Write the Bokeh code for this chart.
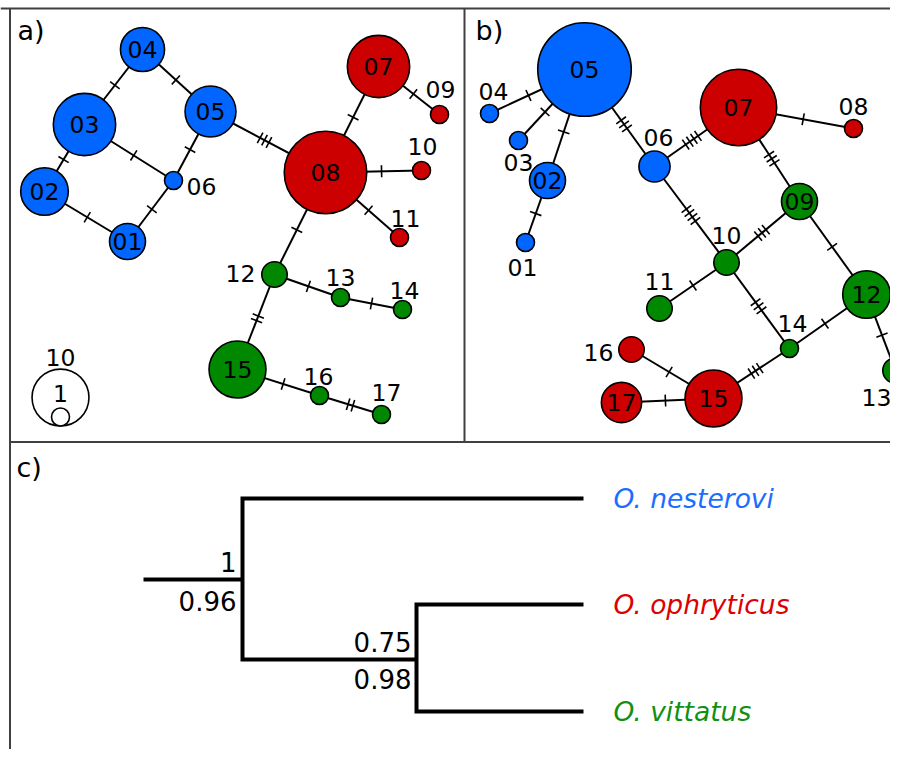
import math
from bokeh.plotting import figure
from bokeh.models import Range1d
from bokeh.embed import file_html
from bokeh.resources import INLINE
from bokeh.core.properties import value

FONT = "DejaVu Sans"
BLUE = "#0066ff"
RED = "#cc0000"
GREEN = "#008800"
GRP_COL = {"n": BLUE, "o": RED, "v": GREEN}

# ---------------- panel a: haplotype network ----------------
a_ids = ["01", "02", "03", "04", "05", "06", "07", "08", "09", "10", "11", "12", "13", "14", "15", "16", "17"]
a_x = [127, 44, 84, 142, 210, 173, 378, 325, 439, 421, 399, 274, 340, 402, 237, 319, 381]
a_y = [241, 191, 124, 49, 111, 180, 66, 172, 114, 170, 237, 274, 297, 309, 369, 395, 414]
a_n = [4, 7, 12, 6, 8, 1, 12, 21, 1, 1, 1, 2, 1, 1, 10, 1, 1]
a_grp = ["n"] * 6 + ["o"] * 5 + ["v"] * 6
a_outer = {"06": (201, 186), "09": (440, 89), "10": (422, 146), "11": (405, 218),
           "12": (240, 273), "13": (340, 277), "14": (404, 290), "16": (318, 376), "17": (386, 392)}
a_edges = [("04", "03", 1), ("04", "05", 1), ("03", "02", 1), ("03", "06", 1), ("05", "06", 1),
           ("02", "01", 1), ("01", "06", 1), ("05", "08", 3), ("08", "07", 1), ("07", "09", 1),
           ("08", "10", 1), ("08", "11", 1), ("08", "12", 1), ("12", "13", 1), ("13", "14", 1),
           ("12", "15", 2), ("15", "16", 1), ("16", "17", 2)]

# ---------------- panel b: haplotype network ----------------
b_ids = ["01", "02", "03", "04", "05", "06", "07", "08", "09", "10", "11", "12", "13", "14", "15", "16", "17"]
b_x = [525, 547, 518, 489, 584, 654, 738, 853, 799, 726, 659, 866, 895, 789, 713, 631, 621]
b_y = [242, 180, 140, 113, 69, 166, 107, 128, 201, 262, 308, 294, 370, 348, 398, 349, 402]
b_n = [1, 4, 1, 1, 27, 3, 18, 1, 4, 2, 2, 7, 2, 1, 10, 2, 5]
b_grp = ["n"] * 6 + ["o"] * 2 + ["v"] * 6 + ["o"] * 3
b_outer = {"01": (522, 267), "03": (518, 162), "04": (493, 91), "06": (658, 137), "08": (853, 106),
           "10": (726, 235), "11": (659, 281), "13": (876, 397), "14": (792, 323), "16": (598, 352)}
b_edges = [("05", "04", 1), ("05", "03", 1), ("05", "02", 1), ("02", "01", 1), ("05", "06", 3),
           ("06", "07", 4), ("07", "08", 1), ("07", "09", 3), ("06", "10", 4), ("09", "10", 3),
           ("09", "12", 1), ("10", "11", 1), ("10", "14", 3), ("14", "12", 1), ("12", "13", 1),
           ("14", "15", 3), ("15", "16", 1), ("15", "17", 1)]

# legend sizes
legend_n = [10, 1]

# ---------------- panel c: tree ----------------
taxa = ["O. nesterovi", "O. ophryticus", "O. vittatus"]
taxa_col = ["#1a6eff", "#dd0000", "#119011"]
tip_y = [498, 604, 711]
tip_x = 583
root_x = 143
root_y = 579
node1_x = 242
node2_x = 416
node2_y = 659
support_n1 = ["1", "0.96"]
support_n2 = ["0.75", "0.98"]

R1 = 9.0  # radius of a single-sample haplotype


def rad(n):
    return R1 * math.sqrt(n)


p = figure(width=890, height=749, output_backend="svg", toolbar_location=None,
           x_range=Range1d(0, 890), y_range=Range1d(749, 0), min_border=0,
           outline_line_color=None, background_fill_color="white")
p.axis.visible = False
p.xgrid.visible = False
p.ygrid.visible = False

# frame lines
p.segment(x0=[0, 9.5, 464, 9], y0=[8, 8, 8, 441.5], x1=[890, 9.5, 464, 890], y1=[8, 749, 441.5, 441.5],
          line_color="#404040", line_width=2)


def draw_network(ids, xs, ys, ns, grps, outer, edges):
    pos = {i: (x, y, rad(n)) for i, x, y, n in zip(ids, xs, ys, ns)}
    ex0, ey0, ex1, ey1 = [], [], [], []
    tx0, ty0, tx1, ty1 = [], [], [], []
    for a, b, k in edges:
        xa, ya, ra = pos[a]
        xb, yb, rb = pos[b]
        ex0.append(xa); ey0.append(ya); ex1.append(xb); ey1.append(yb)
        d = math.hypot(xb - xa, yb - ya)
        ux, uy = (xb - xa) / d, (yb - ya) / d
        t_mid = 0.5 * (d / 2) + 0.5 * ((ra + d - rb) / 2)
        px, py = -uy, ux
        for i in range(k):
            off = t_mid + (i - (k - 1) / 2) * 5.0
            cx, cy = xa + ux * off, ya + uy * off
            tx0.append(cx - px * 6); ty0.append(cy - py * 6)
            tx1.append(cx + px * 6); ty1.append(cy + py * 6)
    p.segment(x0=ex0, y0=ey0, x1=ex1, y1=ey1, line_color="black", line_width=2)
    p.segment(x0=tx0, y0=ty0, x1=tx1, y1=ty1, line_color="black", line_width=1.6)
    p.circle(x=xs, y=ys, radius=[rad(n) for n in ns], fill_color=[GRP_COL[g] for g in grps],
             line_color="black", line_width=1.6)
    in_x, in_y, in_t = [], [], []
    out_x, out_y, out_t = [], [], []
    for i, x, y in zip(ids, xs, ys):
        if i in outer:
            out_x.append(outer[i][0]); out_y.append(outer[i][1]); out_t.append(i)
        else:
            in_x.append(x); in_y.append(y); in_t.append(i)
    p.text(x=in_x + out_x, y=in_y + out_y, text=in_t + out_t, text_font=value(FONT),
           text_font_size="23.5px", text_align="center", text_baseline="middle", text_color="black")


draw_network(a_ids, a_x, a_y, a_n, a_grp, a_outer, a_edges)
draw_network(b_ids, b_x, b_y, b_n, b_grp, b_outer, b_edges)

# size legend (panel a)
lg_cx, lg_bottom = 60, 425.5
p.circle(x=[lg_cx] * 2, y=[lg_bottom - rad(n) for n in legend_n], radius=[rad(n) for n in legend_n],
         fill_color="white", line_color="black", line_width=1.6)
p.text(x=[lg_cx, lg_cx], y=[357, 393], text=[str(n) for n in legend_n], text_font=value(FONT),
       text_font_size="23.5px", text_align="center", text_baseline="middle")

# panel labels
p.text(x=[17, 475, 16], y=[30, 30, 467], text=["a)", "b)", "c)"], text_font=value(FONT),
       text_font_size="27px", text_align="left", text_baseline="middle")

# tree
xs_paths = [[root_x, node1_x],
            [tip_x, node1_x, node1_x, node2_x],
            [tip_x, node2_x, node2_x, tip_x]]
ys_paths = [[root_y, root_y],
            [tip_y[0], tip_y[0], node2_y, node2_y],
            [tip_y[1], tip_y[1], tip_y[2], tip_y[2]]]
p.multi_line(xs=xs_paths, ys=ys_paths, line_color="black", line_width=4, line_join="miter")

p.text(x=[node1_x - 6, node1_x - 6, node2_x - 5, node2_x - 5], y=[561, 600, 641, 678],
       text=support_n1 + support_n2, text_font=value(FONT), text_font_size="26px",
       text_align="right", text_baseline="middle")
p.text(x=[613] * 3, y=tip_y, text=taxa, text_color=taxa_col, text_font=value(FONT),
       text_font_style="italic", text_font_size="26.5px", text_align="left", text_baseline="middle")

open("out.html", "w").write(file_html(p, INLINE))
